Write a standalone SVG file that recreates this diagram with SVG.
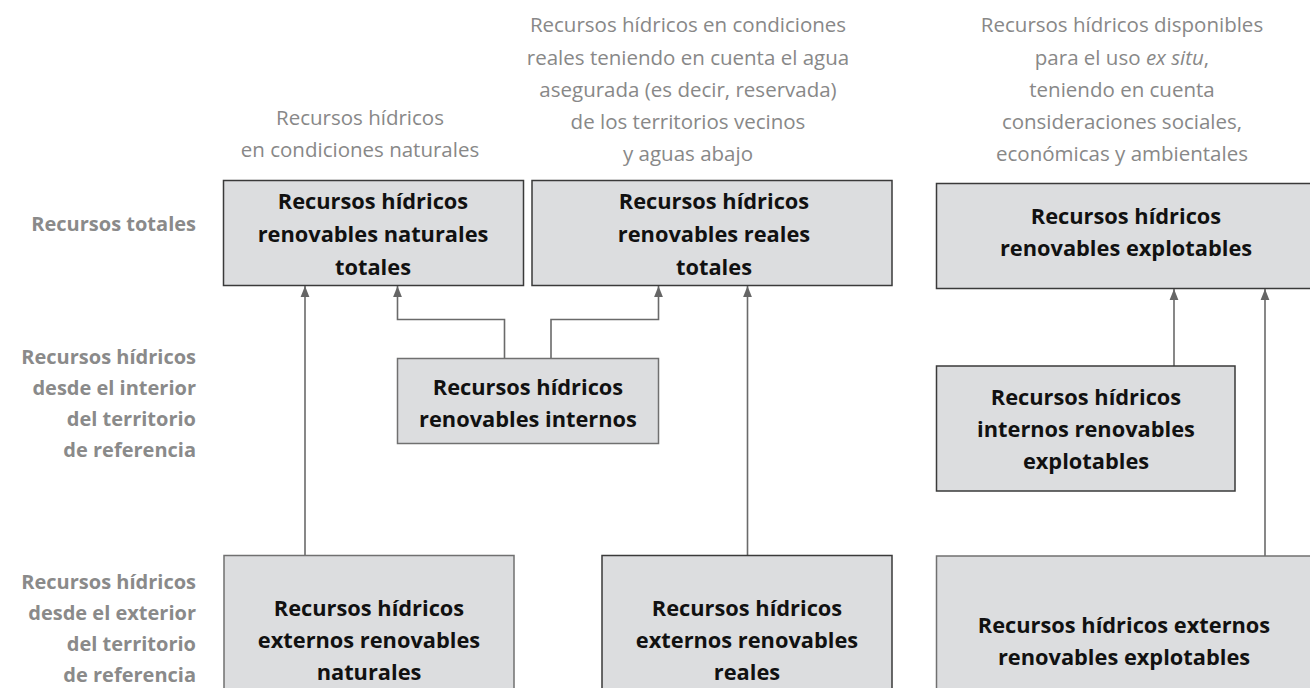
<svg xmlns="http://www.w3.org/2000/svg" width="1310" height="688" viewBox="0 0 1310 688">
<style>
.box{fill:#dcdddf;stroke:#3a3a3a;stroke-width:1.5}
.box2{fill:#dcdddf;stroke:#707070;stroke-width:1.5}
.bt{font-family:"Open Sans","Liberation Sans",sans-serif;font-weight:700;font-size:21.8px;fill:#111;text-anchor:middle}
.hd{font-family:"Open Sans","Liberation Sans",sans-serif;font-size:20.5px;fill:#888;text-anchor:middle}
.lb{font-family:"Open Sans","Liberation Sans",sans-serif;font-weight:700;font-size:20px;fill:#8a8a8a;text-anchor:end}
.cn{fill:none;stroke:#6a6a6a;stroke-width:1.6}
</style>
<defs>
<marker id="ar" viewBox="0 0 10 10" refX="10" refY="5" markerWidth="11" markerHeight="11" markerUnits="userSpaceOnUse" orient="auto">
<path d="M0,1 L10,5 L0,9 Z" fill="#666"/>
</marker>
</defs>

<g id="headers">
<text class="hd" x="360" y="125">Recursos hídricos</text>
<text class="hd" x="360" y="157">en condiciones naturales</text>
<text class="hd" x="688" y="32">Recursos hídricos en condiciones</text>
<text class="hd" x="688" y="65">reales teniendo en cuenta el agua</text>
<text class="hd" x="688" y="97">asegurada (es decir, reservada)</text>
<text class="hd" x="688" y="129">de los territorios vecinos</text>
<text class="hd" x="688" y="161">y aguas abajo</text>
<text class="hd" x="1122" y="32">Recursos hídricos disponibles</text>
<text class="hd" x="1122" y="65">para el uso <tspan font-style="italic">ex situ</tspan>,</text>
<text class="hd" x="1122" y="97">teniendo en cuenta</text>
<text class="hd" x="1122" y="129">consideraciones sociales,</text>
<text class="hd" x="1122" y="161">económicas y ambientales</text>
</g>

<g id="row-labels">
<text class="lb" x="196" y="231">Recursos totales</text>
<text class="lb" x="196" y="364">Recursos hídricos</text>
<text class="lb" x="196" y="395">desde el interior</text>
<text class="lb" x="196" y="426">del territorio</text>
<text class="lb" x="196" y="457">de referencia</text>
<text class="lb" x="196" y="589">Recursos hídricos</text>
<text class="lb" x="196" y="620">desde el exterior</text>
<text class="lb" x="196" y="651">del territorio</text>
<text class="lb" x="196" y="682">de referencia</text>
</g>

<g id="connectors">
<line class="cn" x1="305" y1="555" x2="305" y2="286" marker-end="url(#ar)"/>
<polyline class="cn" points="504.5,358 504.5,319.5 397.5,319.5 397.5,286" marker-end="url(#ar)"/>
<polyline class="cn" points="551,358 551,319.5 658.5,319.5 658.5,286" marker-end="url(#ar)"/>
<line class="cn" x1="747.5" y1="555" x2="747.5" y2="286" marker-end="url(#ar)"/>
<line class="cn" x1="1174" y1="366" x2="1174" y2="289" marker-end="url(#ar)"/>
<line class="cn" x1="1265" y1="556" x2="1265" y2="289" marker-end="url(#ar)"/>
</g>

<g id="n-natural-total">
<rect class="box" x="223.5" y="180.5" width="300" height="105"/>
<text class="bt" x="373" y="209">Recursos hídricos</text>
<text class="bt" x="373" y="242">renovables naturales</text>
<text class="bt" x="373" y="275">totales</text>
</g>

<g id="n-real-total">
<rect class="box" x="532" y="180.5" width="360" height="105"/>
<text class="bt" x="714" y="209">Recursos hídricos</text>
<text class="bt" x="714" y="242">renovables reales</text>
<text class="bt" x="714" y="275">totales</text>
</g>

<g id="n-explotables">
<rect class="box" x="936.5" y="183.5" width="380" height="105"/>
<text class="bt" x="1126" y="224">Recursos hídricos</text>
<text class="bt" x="1126" y="256">renovables explotables</text>
</g>

<g id="n-internos">
<rect class="box2" x="397.5" y="358.5" width="261" height="85"/>
<text class="bt" x="528" y="395">Recursos hídricos</text>
<text class="bt" x="528" y="427">renovables internos</text>
</g>

<g id="n-internos-explotables">
<rect class="box" x="936.5" y="366" width="298.5" height="125"/>
<text class="bt" x="1086" y="405">Recursos hídricos</text>
<text class="bt" x="1086" y="437">internos renovables</text>
<text class="bt" x="1086" y="469">explotables</text>
</g>

<g id="n-ext-natural">
<rect class="box2" x="224" y="555.5" width="290" height="140"/>
<text class="bt" x="369" y="616">Recursos hídricos</text>
<text class="bt" x="369" y="648">externos renovables</text>
<text class="bt" x="369" y="680">naturales</text>
</g>

<g id="n-ext-real">
<rect class="box" x="602" y="555.5" width="290" height="140"/>
<text class="bt" x="747" y="616">Recursos hídricos</text>
<text class="bt" x="747" y="648">externos renovables</text>
<text class="bt" x="747" y="680">reales</text>
</g>

<g id="n-ext-explotables">
<rect class="box2" x="936.5" y="556" width="380" height="140"/>
<text class="bt" x="1124" y="633">Recursos hídricos externos</text>
<text class="bt" x="1124" y="665">renovables explotables</text>
</g>
</svg>
